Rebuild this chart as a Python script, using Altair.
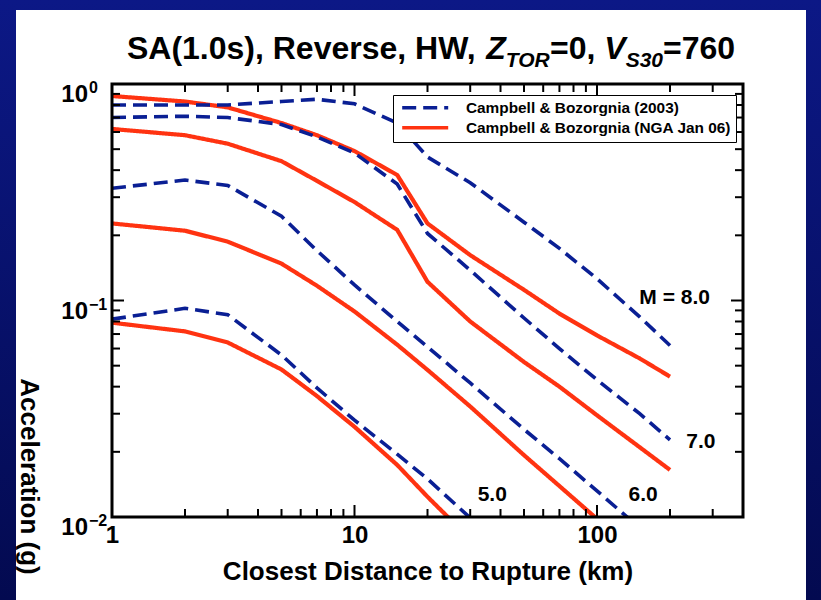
import altair as alt
import pandas as pd

# ---------------- data ----------------
DIST = [1, 2, 3, 5, 7, 10, 15, 20, 30, 50, 70, 100, 150, 200]
MODELS = ["Campbell & Bozorgnia (2003)", "Campbell & Bozorgnia (NGA Jan 06)"]
MAGS = ["5.0", "6.0", "7.0", "8.0"]

CB03_M5 = [0.082, 0.092, 0.086, 0.056, 0.0395, 0.028, 0.0195, 0.015, 0.0099, 0.0062, None, None, None, None]
CB03_M6 = [0.33, 0.36, 0.34, 0.245, 0.17, 0.118, 0.080, 0.061, 0.0416, 0.0254, 0.0186, 0.0132, 0.0089, None]
CB03_M7 = [0.70, 0.71, 0.70, 0.65, 0.57, 0.48, 0.345, 0.204, 0.138, 0.083, 0.060, 0.043, 0.030, 0.0227]
CB03_M8 = [0.80, 0.80, 0.80, 0.83, 0.85, 0.81, 0.66, 0.46, 0.35, 0.23, 0.174, 0.126, 0.084, 0.062]

NGA_M5 = [0.079, 0.072, 0.064, 0.048, 0.0362, 0.0261, 0.0174, 0.0124, 0.0079, None, None, None, None, None]
NGA_M6 = [0.227, 0.21, 0.187, 0.148, 0.117, 0.089, 0.0625, 0.0478, 0.0324, 0.0193, 0.0139, 0.0098, 0.0066, None]
NGA_M7 = [0.62, 0.58, 0.53, 0.44, 0.357, 0.285, 0.212, 0.122, 0.080, 0.052, 0.040, 0.0295, 0.021, 0.0165]
NGA_M8 = [0.88, 0.83, 0.78, 0.66, 0.58, 0.49, 0.38, 0.227, 0.162, 0.112, 0.087, 0.069, 0.054, 0.0445]

MAG_LABELS = ["M = 8.0", "7.0", "6.0", "5.0"]
MAG_LABEL_D = [209, 268, 155, 37]
MAG_LABEL_A = [0.103, 0.0222, 0.0126, 0.0126]

X_LABELS = [1, 10, 100]
X_MINOR = [2, 3, 4, 5, 6, 7, 8, 9, 20, 30, 40, 50, 60, 70, 80, 90, 200, 300]
X_MAJOR = [10, 100]
Y_LABELS = [1, 0.1, 0.01]
Y_SUP = ["0", "\u22121", "\u22122"]
Y_MINOR = [0.02, 0.03, 0.04, 0.05, 0.06, 0.07, 0.08, 0.09, 0.2, 0.3, 0.4, 0.5, 0.6, 0.7, 0.8, 0.9]
Y_MAJOR = [0.1]

XT = "Closest Distance to Rupture (km)"
YT = "Acceleration (g)"

# ---------------- styling ----------------
FONT = "Liberation Sans"
BLUE = "#0a1f94"
RED = "#ff3311"
W, H = 631, 433
PL, PT = 112, 84

rows = []
for model, series in [(MODELS[0], [CB03_M5, CB03_M6, CB03_M7, CB03_M8]),
                      (MODELS[1], [NGA_M5, NGA_M6, NGA_M7, NGA_M8])]:
    for mag, vals in zip(MAGS, series):
        for d, a in zip(DIST, vals):
            if a is not None:
                rows.append({"d": d, "a": a, "model": model, "mag": mag})
df = pd.DataFrame(rows)

xs = alt.Scale(type="log", domain=[1, 400], nice=False)
ys = alt.Scale(type="log", domain=[0.01, 1], nice=False)

xaxis = alt.Axis(values=X_LABELS, format=".0f", labelFontSize=24, labelFontWeight="bold",
                 labelColor="black", labelFont=FONT, labelPadding=6, labelFlush=False,
                 ticks=False, domain=False, grid=False, titleFontSize=26,
                 titleFontWeight="bold", titleColor="black", titleFont=FONT,
                 titleY=62, titleBaseline="alphabetic", zindex=1)
yaxis = alt.Axis(labels=False, ticks=False, domain=False, grid=False, titleAngle=90,
                 titleX=-84, titleY=392, titleAlign="center", titleBaseline="middle",
                 titleFontSize=26, titleFontWeight="bold", titleColor="black",
                 titleFont=FONT, zindex=1)


def xenc(f):
    return alt.X(f, type="quantitative", scale=xs, axis=xaxis, title=XT)


def yenc(f):
    return alt.Y(f, type="quantitative", scale=ys, axis=yaxis, title=YT)


leg = alt.Legend(title=None, orient="none", legendX=281, legendY=11,
                 symbolType="M-4.6,0H4.6", symbolSize=100, symbolStrokeWidth=3.5,
                 symbolOffset=19.5, labelOffset=33, labelFontSize=15.4,
                 labelFontWeight="bold", labelColor="black", labelFont=FONT,
                 labelLimit=500, strokeColor="black", fillColor="white",
                 padding=5, rowPadding=3, cornerRadius=0)

color = alt.Color("model:N", scale=alt.Scale(domain=MODELS, range=[BLUE, RED]), legend=leg)
dash = alt.StrokeDash("model:N", scale=alt.Scale(domain=MODELS, range=[[14, 7], [1, 0]]), legend=leg)

dummy = pd.DataFrame({"k": [0]})

bg = alt.Chart(dummy).mark_rect(
    color=alt.LinearGradient(gradient="linear",
                             stops=[alt.GradientStop(color="#0c1886", offset=0),
                                    alt.GradientStop(color="#030a50", offset=1)],
                             x1=0, x2=0, y1=0, y2=1)
).encode(x=alt.value(-PL), x2=alt.value(821 - PL), y=alt.value(-PT), y2=alt.value(600 - PT))

panel = alt.Chart(dummy).mark_rect(color="white").encode(
    x=alt.value(16 - PL), x2=alt.value(806 - PL), y=alt.value(10 - PT), y2=alt.value(600 - PT))

red_lines = alt.Chart(df[df.model == MODELS[1]]).mark_line(strokeWidth=4.2, clip=True).encode(
    x=xenc("d"), y=yenc("a"), color=color, strokeDash=dash, detail="mag:N")
blue_lines = alt.Chart(df[df.model == MODELS[0]]).mark_line(strokeWidth=3.6, clip=True).encode(
    x=xenc("d"), y=yenc("a"), color=color, strokeDash=dash, detail="mag:N")

tick_layers = []
for vals, ln in [(X_MINOR, 8), (X_MAJOR, 12)]:
    tdf = pd.DataFrame({"v": vals})
    tick_layers.append(alt.Chart(tdf).mark_rule(color="black", strokeWidth=2).encode(
        x=xenc("v"), y=alt.value(H), y2=alt.value(H - ln)))
    tick_layers.append(alt.Chart(tdf).mark_rule(color="black", strokeWidth=2).encode(
        x=xenc("v"), y=alt.value(0), y2=alt.value(ln)))
for vals, ln in [(Y_MINOR, 8), (Y_MAJOR, 12)]:
    tdf = pd.DataFrame({"v": vals})
    tick_layers.append(alt.Chart(tdf).mark_rule(color="black", strokeWidth=2).encode(
        y=yenc("v"), x=alt.value(0), x2=alt.value(ln)))
    tick_layers.append(alt.Chart(tdf).mark_rule(color="black", strokeWidth=2).encode(
        y=yenc("v"), x=alt.value(W), x2=alt.value(W - ln)))

frame = alt.Chart(dummy).mark_rect(filled=False, color="black", strokeWidth=3).encode(
    x=alt.value(0), x2=alt.value(W), y=alt.value(0), y2=alt.value(H))

ylab_df = pd.DataFrame({"v": Y_LABELS, "base": ["10"] * 3, "sup": Y_SUP})
ylab = alt.Chart(ylab_df).mark_text(align="right", baseline="alphabetic", dy=18, fontSize=24,
                                    fontWeight="bold", font=FONT, color="black").encode(
    y=yenc("v"), x=alt.value(-24), text="base:N")
ysup = alt.Chart(ylab_df).mark_text(align="left", baseline="alphabetic", dy=9, fontSize=16,
                                    fontWeight="bold", font=FONT, color="black").encode(
    y=yenc("v"), x=alt.value(-23), text="sup:N")

mag_df = pd.DataFrame({"d": MAG_LABEL_D, "a": MAG_LABEL_A, "t": MAG_LABELS})
mag_text = alt.Chart(mag_df).mark_text(fontSize=21, fontWeight="bold", font=FONT, color="black",
                                       align="center", baseline="middle").encode(
    x=xenc("d"), y=yenc("a"), text="t:N")

# ---- title with italic / subscript parts ----
AW = {' ': 278, 'S': 667, 'A': 722, '(': 333, ')': 333, '1': 556, '.': 278, '0': 556, 's': 556,
      ',': 278, 'R': 722, 'e': 556, 'v': 556, 'r': 389, 'H': 722, 'W': 944, 'Z': 611, 'T': 611,
      'O': 778, '=': 584, 'V': 667, '3': 556, '7': 556, '6': 556}
F, S = 32, 21
segs = [("SA(1.0s), Reverse, HW, ", F, "normal", 0), ("Z", F, "italic", 0),
        ("TOR", S, "italic", 8), ("=0, ", F, "normal", 0), ("V", F, "italic", 0),
        ("S30", S, "italic", 8), ("=760", F, "normal", 0)]


def tw(t, s):
    return sum(AW[c] for c in t) * s / 1000.0


total = sum(tw(t, s) for t, s, _, _ in segs)
cx = 431 - total / 2
base_y = 59
title_layers = []
for t, s, st, dy in segs:
    title_layers.append(alt.Chart(dummy).mark_text(
        align="left", baseline="alphabetic", fontSize=s, fontWeight="bold", fontStyle=st,
        font=FONT, color="black").encode(
        x=alt.value(cx - PL), y=alt.value(base_y + dy - PT), text=alt.value(t.strip())))
    cx += tw(t, s)

chart = alt.layer(bg, panel, red_lines, blue_lines, *tick_layers, frame, ylab, ysup, mag_text,
                  *title_layers).properties(
    width=W, height=H,
    padding={"left": PL, "top": PT, "right": 821 - PL - W, "bottom": 600 - PT - H},
    autosize=alt.AutoSizeParams(type="none"),
).configure(background="#0a1478", font=FONT).configure_view(stroke=None)

chart.save("out.html", embed_options={"renderer": "svg", "actions": False})
